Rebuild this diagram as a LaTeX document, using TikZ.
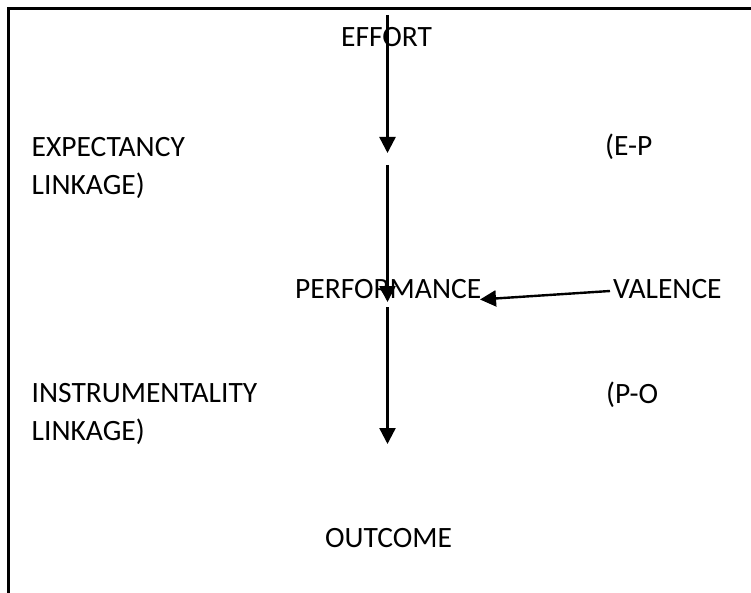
\documentclass[tikz,border=0pt]{standalone}
\usepackage{fontspec}
\setmainfont{Carlito}
\usetikzlibrary{arrows.meta}
\begin{document}
\begin{tikzpicture}[x=1pt,y=-1pt,
  lbl/.style={anchor=base west,inner sep=0pt,font=\fontsize{29.5}{35}\selectfont},
  arr/.style={line width=2.4pt,-{Triangle[length=16pt,width=16pt]}},
  frame/.style={line width=2.6pt}]
\useasboundingbox (0,0) rectangle (751,593);
% frame
\coordinate (tl) at (8.5,8.5);
\coordinate (tr) at (751,8.5);
\coordinate (bl) at (8.5,593);
\draw[frame] (tr) -- (tl) -- (bl);
% texts
\node[lbl] (effort) at (341,47) {EFFORT};
\node[lbl] (exp1) at (31.5,156.5) {EXPECTANCY};
\node[lbl] (exp2) at (31.5,195) {LINKAGE)};
\node[lbl] (ep) at (605,156) {(E-P};
\node[lbl] (perf) at (295,298) {PERFORMANCE};
\node[lbl] (val) at (613,298) {VALENCE};
\node[lbl] (ins1) at (31.5,402) {INSTRUMENTALITY};
\node[lbl] (ins2) at (31.5,440) {LINKAGE)};
\node[lbl] (po) at (606,403) {(P-O};
\node[lbl] (out) at (325,547) {OUTCOME};
% arrows
\coordinate (a1s) at (387.5,15);
\coordinate (a1e) at (387.5,153);
\coordinate (a2s) at (387.5,165);
\coordinate (a2e) at (387.5,302);
\coordinate (a3s) at (387.5,307);
\coordinate (a3e) at (387.5,444);
\coordinate (vs) at (610,291);
\coordinate (ve) at (480,299.5);
\draw[arr] (a1s) -- (a1e);
\draw[arr] (a2s) -- (a2e);
\draw[arr] (a3s) -- (a3e);
\draw[arr] (vs) -- (ve);
\end{tikzpicture}
\end{document}
